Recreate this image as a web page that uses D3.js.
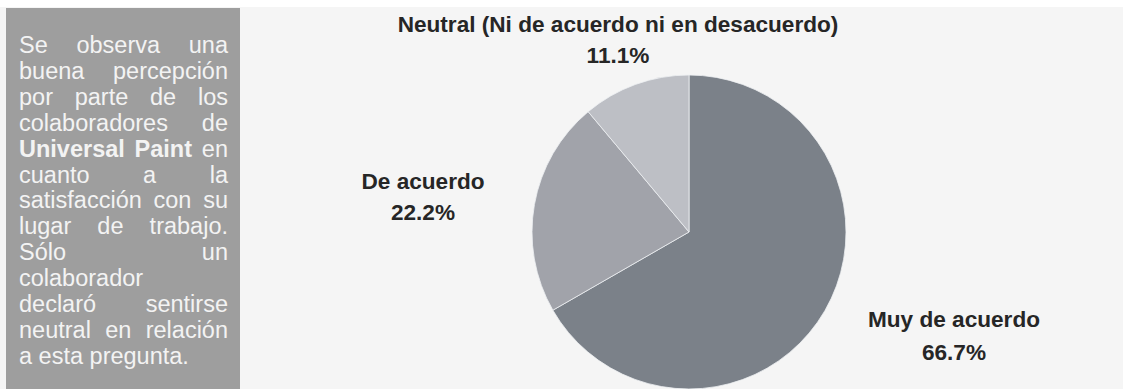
<!DOCTYPE html>
<html lang="es">
<head>
<meta charset="utf-8">
<title>Satisfacción con el lugar de trabajo</title>
<script src="https://cdn.jsdelivr.net/npm/d3@7"></script>
<style>
  html, body { margin: 0; padding: 0; background: #ffffff; }
  svg { display: block; }
</style>
</head>
<body>
<svg id="chart" width="1123" height="389"></svg>
<script>
// Survey answers and their shares (%)
const categories = ["Muy de acuerdo", "De acuerdo", "Neutral (Ni de acuerdo ni en desacuerdo)"];
const shares = [66.7, 22.2, 11.1];
const shareLabels = ["66.7%", "22.2%", "11.1%"];
const sliceColors = ["#7b8189", "#a1a3aa", "#bdbfc5"];

// Commentary shown in the side panel, one entry per line; bold words flagged
const noteLines = [
  [["Se"], ["observa"], ["una"]],
  [["buena"], ["percepción"]],
  [["por"], ["parte"], ["de"], ["los"]],
  [["colaboradores"], ["de"]],
  [["Universal", true], ["Paint", true], ["en"]],
  [["cuanto"], ["a"], ["la"]],
  [["satisfacción"], ["con"], ["su"]],
  [["lugar"], ["de"], ["trabajo."]],
  [["Sólo"], ["un"]],
  [["colaborador"]],
  [["declaró"], ["sentirse"]],
  [["neutral"], ["en"], ["relación"]],
  [["a"], ["esta"], ["pregunta."]]
];
// lines that end a paragraph or hold a single word stay left-aligned
const leftAligned = [9, 12];

const svg = d3.select("#chart");
const W = 1123, H = 389;

// backdrop
svg.append("rect").attr("width", W).attr("height", H).attr("fill", "#ffffff");
svg.append("rect").attr("x", 0).attr("y", 7).attr("width", W).attr("height", H - 7).attr("fill", "#f5f5f5");

// ---- side panel ----
const panel = { x: 6, y: 8, w: 234, h: H - 8 };
svg.append("rect")
  .attr("x", panel.x).attr("y", panel.y)
  .attr("width", panel.w).attr("height", panel.h)
  .attr("fill", "#9e9e9e");

const textLeft = 19, textRight = 228;
const firstBaseline = 53, lineStep = 25.9;
const noteFont = "'Liberation Sans', Arial, sans-serif";
const noteSize = 23.5;

const noteG = svg.append("g").attr("fill", "#f3f3f3")
  .style("font-family", noteFont).style("font-size", noteSize + "px");

// measure a regular space
const probe = noteG.append("text").text("a a");
const probe2 = noteG.append("text").text("aa");
const spaceW = probe.node().getComputedTextLength() - probe2.node().getComputedTextLength();
probe.remove(); probe2.remove();

noteLines.forEach((words, i) => {
  const y = firstBaseline + i * lineStep;
  const nodes = words.map(([w, bold]) =>
    noteG.append("text")
      .attr("y", y)
      .style("font-weight", bold ? "bold" : "normal")
      .text(w));
  const widths = nodes.map(n => n.node().getComputedTextLength());
  const total = d3.sum(widths);
  let gap = spaceW;
  if (!leftAligned.includes(i) && words.length > 1) {
    gap = (textRight - textLeft - total) / (words.length - 1);
  }
  let x = textLeft;
  nodes.forEach((n, k) => {
    n.attr("x", x);
    x += widths[k] + gap;
  });
});

// ---- pie ----
const cx = 689, cy = 232, radius = 157;

const pie = d3.pie().sort(null).value(d => d.value);
const arcs = pie(categories.map((c, i) => ({ name: c, value: shares[i], label: shareLabels[i] })));
const arc = d3.arc().innerRadius(0).outerRadius(radius);

const color = d3.scaleOrdinal().domain(categories).range(sliceColors);

const pieG = svg.append("g").attr("transform", `translate(${cx},${cy})`);
pieG.selectAll("path")
  .data(arcs)
  .join("path")
  .attr("d", arc)
  .attr("fill", d => color(d.data.name))
  .attr("stroke", "#eef0f3")
  .attr("stroke-width", 0.8);

// ---- slice labels ----
const labelPos = {
  "Muy de acuerdo": [954, 327, 360],
  "De acuerdo": [423, 189, 220],
  "Neutral (Ni de acuerdo ni en desacuerdo)": [618, 32, 63]
};

const labelG = svg.append("g")
  .attr("fill", "#262626")
  .attr("text-anchor", "middle")
  .style("font-family", noteFont)
  .style("font-weight", "bold")
  .style("font-size", "22.6px");

arcs.forEach(d => {
  const [x, y1, y2] = labelPos[d.data.name];
  labelG.append("text").attr("x", x).attr("y", y1).text(d.data.name);
  labelG.append("text").attr("x", x).attr("y", y2).text(d.data.label);
});
</script>
</body>
</html>
